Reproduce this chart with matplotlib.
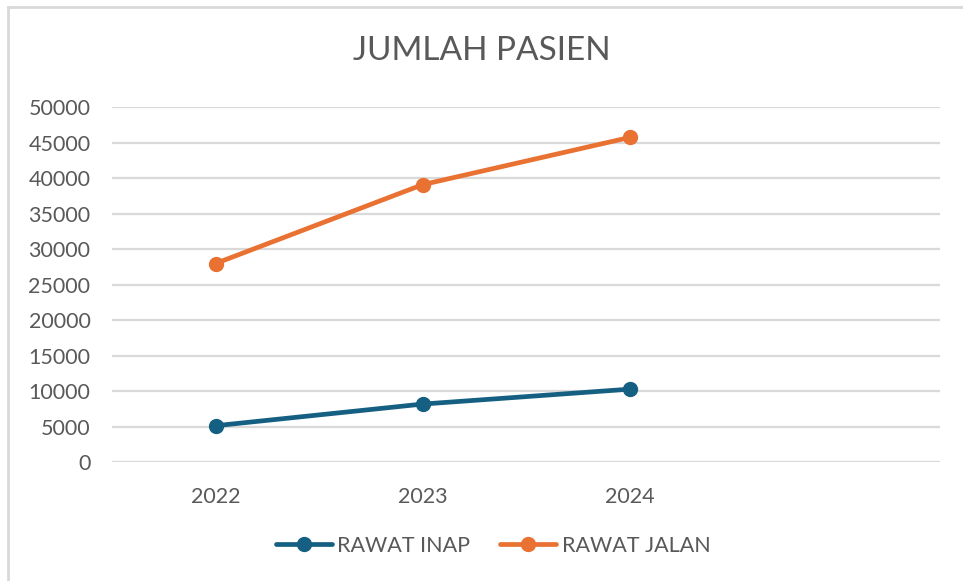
import matplotlib.pyplot as plt
from matplotlib.lines import Line2D

plt.rcParams['font.family'] = ['Lato', 'DejaVu Sans']

# data
years = ['2022', '2023', '2024']
rawat_inap = [5150, 8200, 10300]
rawat_jalan = [28000, 39100, 45750]
y_ticks = [0, 5000, 10000, 15000, 20000, 25000, 30000, 35000, 40000, 45000, 50000]

text_col = '#595959'
grid_col = '#D9D9D9'

fig = plt.figure(figsize=(9.63, 5.81), dpi=100)
ax = fig.add_axes([112 / 963, 1 - 462.3 / 581, 828 / 963, 355 / 581])

x = list(range(len(years)))
ax.plot(x, rawat_inap, color='#156082', lw=3.4, marker='o', ms=10,
        solid_capstyle='round', label='RAWAT INAP', zorder=3)
ax.plot(x, rawat_jalan, color='#E97132', lw=3.4, marker='o', ms=10,
        solid_capstyle='round', label='RAWAT JALAN', zorder=3)

# Excel-style category axis with one empty slot at the end
ax.set_xlim(-0.5, 3.5)
ax.set_xticks(x)
ax.set_xticklabels(years)
ax.set_ylim(0, 50000)
ax.set_yticks(y_ticks)
ax.set_yticklabels([str(v) for v in y_ticks])

ax.grid(axis='y', color=grid_col, lw=1.6)
ax.set_axisbelow(True)
for s in ax.spines.values():
    s.set_visible(False)
ax.tick_params(axis='both', length=0, labelsize=15.5, colors=text_col)
ax.tick_params(axis='y', pad=15.5)
ax.tick_params(axis='x', pad=18)

fig.text(0.5, 1 - 51 / 581, 'JUMLAH PASIEN', ha='center', va='center',
         fontsize=24, color=text_col)

fig.legend(loc='center', bbox_to_anchor=(493 / 963, 1 - 546 / 581), ncol=2,
           frameon=False, fontsize=15.5, labelcolor=text_col,
           handlelength=2.6, handletextpad=0.25, columnspacing=1.4)

# chart frame (left and top edges are visible in the crop)
fig.add_artist(Line2D([8 / 963, 8 / 963], [0, 1 - 7 / 581],
                      transform=fig.transFigure, color=grid_col, lw=2))
fig.add_artist(Line2D([8 / 963, 1], [1 - 7 / 581, 1 - 7 / 581],
                      transform=fig.transFigure, color=grid_col, lw=2))

fig.savefig('out.png', dpi=100, facecolor='white')
